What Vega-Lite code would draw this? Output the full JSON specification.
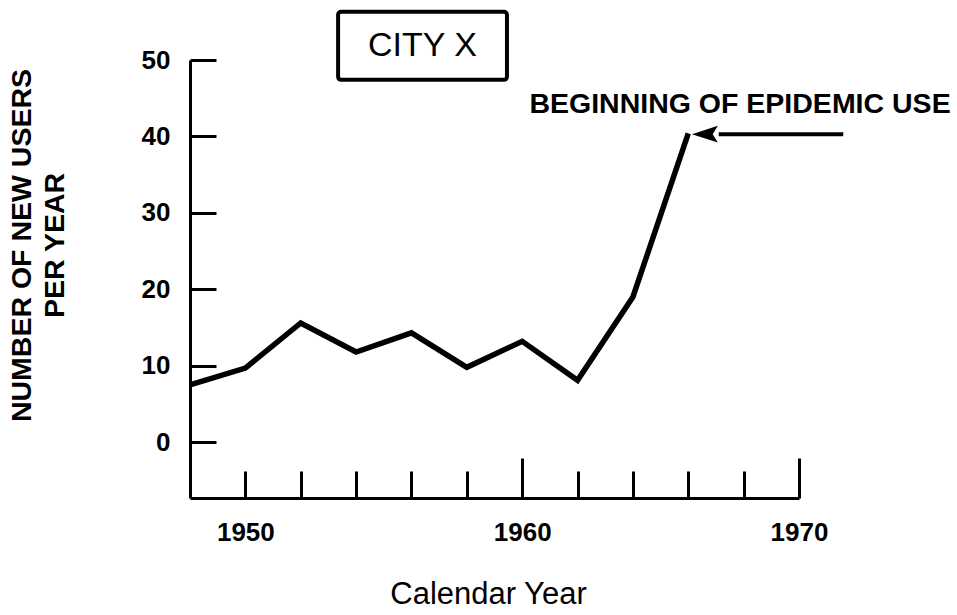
{
  "$schema": "https://vega.github.io/schema/vega-lite/v6.json",
  "width": 609,
  "height": 438,
  "autosize": {"type": "none"},
  "padding": {"left": 190, "top": 60, "right": 158, "bottom": 117},
  "background": "white",
  "config": {
    "view": {"stroke": null},
    "font": "Liberation Sans",
    "axis": {"grid": false, "domainColor": "#000", "tickColor": "#000", "labelColor": "#000", "titleColor": "#000"}
  },
  "datasets": {
    "series": [
      {"year": 1948, "value": 7.5},
      {"year": 1950, "value": 9.7},
      {"year": 1952, "value": 15.6},
      {"year": 1954, "value": 11.8},
      {"year": 1956, "value": 14.3},
      {"year": 1958, "value": 9.8},
      {"year": 1960, "value": 13.2},
      {"year": 1962, "value": 8.1},
      {"year": 1964, "value": 19.0},
      {"year": 1966, "value": 40.4}
    ],
    "box": [{"year": 1953.35, "year2": 1959.45, "value": 56.3, "value2": 47.4, "label": "CITY X", "cx": 1956.4, "cy": 51.84}],
    "note": [{"year": 1967.87, "value": 43.06, "label": "BEGINNING OF EPIDEMIC USE"}],
    "arrow": [{"year": 1971.6, "year2": 1967.1, "value": 40.3, "tip": 1966.6}]
  },
  "layer": [
    {
      "data": {"name": "series"},
      "mark": {"type": "line", "color": "#000", "strokeWidth": 5.5, "strokeJoin": "miter"},
      "encoding": {
        "x": {
          "field": "year", "type": "quantitative",
          "scale": {"domain": [1948, 1970], "nice": false, "zero": false},
          "axis": {
            "title": "Calendar Year",
            "values": [1950, 1952, 1954, 1956, 1958, 1960, 1962, 1964, 1966, 1968, 1970],
            "labelExpr": "datum.value % 10 == 0 ? datum.label : ''",
            "format": "d",
            "labelFlush": false,
            "labelFontSize": 26,
            "labelFontWeight": "bold",
            "labelBaseline": "top",
            "labelPadding": {"condition": {"test": "datum.value == 1960 || datum.value == 1970", "value": 61}, "value": 48},
            "tickSize": {"condition": {"test": "datum.value == 1960 || datum.value == 1970", "value": -40}, "value": -27},
            "tickWidth": 3,
            "domainWidth": 3,
            "titleFontSize": 31,
            "titleFontWeight": "normal",
            "titleBaseline": "alphabetic",
            "titleX": 298,
            "titleY": 105
          }
        },
        "y": {
          "field": "value", "type": "quantitative",
          "scale": {"domain": [-7.3, 50], "nice": false, "zero": false},
          "axis": {
            "title": ["NUMBER OF NEW USERS", "PER YEAR"],
            "values": [0, 10, 20, 30, 40, 50],
            "labelFontSize": 26,
            "labelFontWeight": "bold",
            "labelPadding": 46,
            "tickSize": -26,
            "tickWidth": 3,
            "domainWidth": 3,
            "titleFontSize": 28.5,
            "titleFontWeight": "bold",
            "titleAngle": -90,
            "titleAlign": "center",
            "titleBaseline": "alphabetic",
            "titleLineHeight": 33,
            "titleX": -160,
            "titleY": 185
          }
        }
      }
    },
    {
      "data": {"name": "box"},
      "mark": {"type": "rect", "fill": "white", "stroke": "#000", "strokeWidth": 4, "cornerRadius": 3},
      "encoding": {
        "x": {"field": "year", "type": "quantitative", "scale": {"domain": [1948, 1970], "nice": false, "zero": false}},
        "x2": {"field": "year2"},
        "y": {"field": "value", "type": "quantitative", "scale": {"domain": [-7.3, 50], "nice": false, "zero": false}},
        "y2": {"field": "value2"}
      }
    },
    {
      "data": {"name": "box"},
      "mark": {"type": "text", "fontSize": 34, "color": "#000", "align": "center", "baseline": "middle"},
      "encoding": {
        "x": {"field": "cx", "type": "quantitative", "scale": {"domain": [1948, 1970], "nice": false, "zero": false}},
        "y": {"field": "cy", "type": "quantitative", "scale": {"domain": [-7.3, 50], "nice": false, "zero": false}},
        "text": {"field": "label"}
      }
    },
    {
      "data": {"name": "note"},
      "mark": {"type": "text", "fontSize": 28.5, "fontWeight": "bold", "color": "#000", "align": "center", "baseline": "alphabetic"},
      "encoding": {
        "x": {"field": "year", "type": "quantitative", "scale": {"domain": [1948, 1970], "nice": false, "zero": false}},
        "y": {"field": "value", "type": "quantitative", "scale": {"domain": [-7.3, 50], "nice": false, "zero": false}},
        "text": {"field": "label"}
      }
    },
    {
      "data": {"name": "arrow"},
      "mark": {"type": "rule", "color": "#000", "strokeWidth": 4},
      "encoding": {
        "x": {"field": "year", "type": "quantitative", "scale": {"domain": [1948, 1970], "nice": false, "zero": false}},
        "x2": {"field": "year2"},
        "y": {"field": "value", "type": "quantitative", "scale": {"domain": [-7.3, 50], "nice": false, "zero": false}}
      }
    },
    {
      "data": {"name": "arrow"},
      "mark": {"type": "point", "shape": "M -1 0 L 1 -0.65 L 0.6 0 L 1 0.65 Z", "filled": true, "color": "#000", "size": 676, "opacity": 1, "strokeWidth": 0},
      "encoding": {
        "x": {"field": "tip", "type": "quantitative", "scale": {"domain": [1948, 1970], "nice": false, "zero": false}},
        "y": {"field": "value", "type": "quantitative", "scale": {"domain": [-7.3, 50], "nice": false, "zero": false}}
      }
    }
  ]
}
